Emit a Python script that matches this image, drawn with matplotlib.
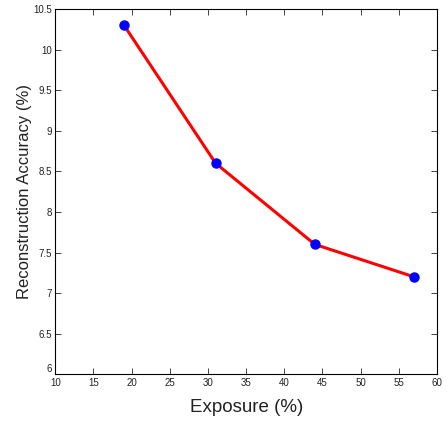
import matplotlib
matplotlib.use("Agg")
import matplotlib.pyplot as plt

exposure = [19, 31, 44, 57]
accuracy = [10.3, 8.6, 7.6, 7.2]
xticks = [10, 15, 20, 25, 30, 35, 40, 45, 50, 55, 60]
yticks = [6, 6.5, 7, 7.5, 8, 8.5, 9, 9.5, 10, 10.5]

plt.rcParams['font.family'] = ['Liberation Sans', 'DejaVu Sans']

fig = plt.figure(figsize=(4.47, 4.21), dpi=100)
ax = fig.add_axes([0.1237, 0.111, 0.9776 - 0.1237, 0.9786 - 0.111])

ax.plot(exposure, accuracy, color='red', linewidth=2.2, zorder=2)
ax.plot(exposure, accuracy, 'o', color='blue', markersize=6.5, zorder=3)

ax.set_xlim(10, 60)
ax.set_ylim(6, 10.5)
ax.set_xticks(xticks)
ax.set_xticklabels([str(t) for t in xticks])
ax.set_yticks(yticks)
ax.set_yticklabels(['%g' % t for t in yticks])
ax.tick_params(direction='in', top=True, right=True, labelsize=7, length=4,
               width=0.6, colors='#222222', pad=2.5)
# matlab puts the lowest y label a bit higher
ax.get_yticklabels()[0].set_verticalalignment('bottom')
for s in ax.spines.values():
    s.set_linewidth(0.8)

ax.set_xlabel('Exposure (%)', fontsize=13.5, labelpad=8, color='#222222')
ax.set_ylabel('Reconstruction Accuracy (%)', fontsize=12, labelpad=1, color='#222222')

fig.savefig('out.png', dpi=100)
